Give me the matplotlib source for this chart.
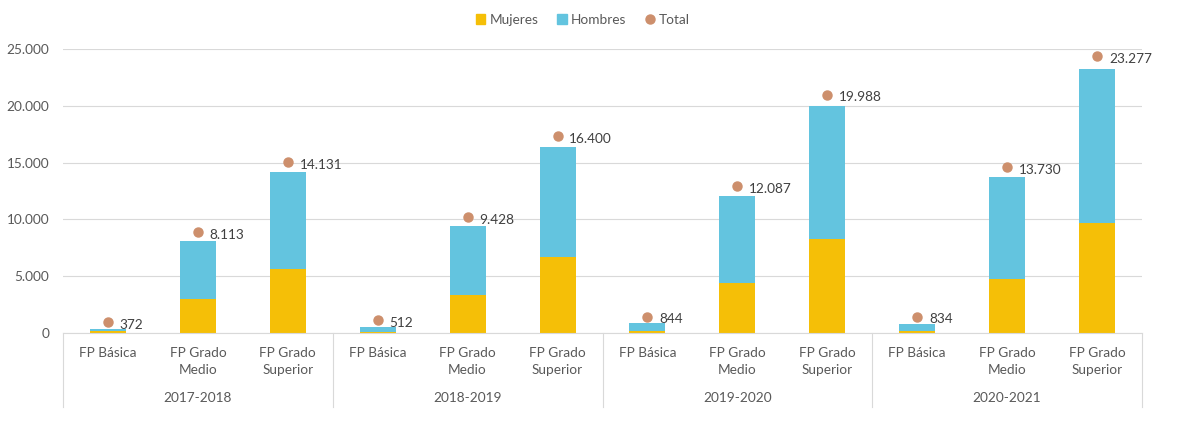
import numpy as np
import matplotlib.pyplot as plt
from matplotlib.lines import Line2D
from matplotlib.patches import Patch
from matplotlib.ticker import FuncFormatter

plt.rcParams['font.family'] = ['Lato', 'DejaVu Sans']

years = ['2017-2018', '2018-2019', '2019-2020', '2020-2021']
levels = ['FP Básica', 'FP Grado\nMedio', 'FP Grado\nSuperior']
total = [372, 8113, 14131, 512, 9428, 16400, 844, 12087, 19988, 834, 13730, 23277]
mujeres = [180, 2958, 5660, 60, 3370, 6655, 200, 4430, 8240, 200, 4720, 9650]
hombres = [t - m for t, m in zip(total, mujeres)]

c_muj = '#F5BF07'
c_hom = '#63C4DF'
c_tot = '#CD8F6C'
grey = '#D9D9D9'
txt = '#595959'

fig = plt.figure(figsize=(11.8, 4.23), dpi=100)
ax = fig.add_axes([63 / 1180, 1 - 333 / 423, (1142 - 63) / 1180, 284 / 423])
x = np.arange(len(total))

ax.bar(x, mujeres, width=0.4, color=c_muj, zorder=2)
ax.bar(x, hombres, width=0.4, bottom=mujeres, color=c_hom, zorder=2)

ax.set_xlim(-0.5, len(total) - 0.5)
ax.set_ylim(0, 25000)
ax.set_yticks(range(0, 25001, 5000))
ax.yaxis.set_major_formatter(FuncFormatter(lambda v, p: f'{int(v):,}'.replace(',', '.')))
ax.grid(axis='y', color=grey, linewidth=0.8, zorder=0)
ax.tick_params(axis='y', length=0, pad=10, labelsize=9.8, labelcolor=txt)
ax.set_xticks([])
for s in ['top', 'right', 'left']:
    ax.spines[s].set_visible(False)
ax.spines['bottom'].set_color(grey)
ax.spines['bottom'].set_linewidth(0.8)

# total dots on a secondary scale, as in the original
ax2 = ax.twinx()
ax2.set_ylim(-576, 23917)
ax2.axis('off')
ax2.plot(x, total, 'o', color=c_tot, markersize=6.5, zorder=3)
for xi, t in zip(x, total):
    ax2.annotate(f'{t:,}'.replace(',', '.'), (xi, t), xytext=(8.5, -2),
                 textcoords='offset points', va='center', ha='left',
                 fontsize=9.8, color='#404040')

# multi-level category axis
tr = ax.get_xaxis_transform()
for i, xi in enumerate(x):
    ax.text(xi, -0.05, levels[i % 3], transform=tr, ha='center', va='top',
            fontsize=9.8, color=txt, linespacing=1.5)
for g, yr in enumerate(years):
    ax.text(g * 3 + 1, -0.228, yr, transform=tr, ha='center', va='center',
            fontsize=9.8, color=txt)
for b in np.arange(-0.5, len(total), 3):
    ax.plot([b, b], [0, -0.26], transform=tr, color=grey, linewidth=0.8, clip_on=False)

handles = [Patch(color=c_muj, label='Mujeres'),
           Patch(color=c_hom, label='Hombres'),
           Line2D([], [], marker='o', linestyle='', color=c_tot, markersize=6.5, label='Total')]
leg = fig.legend(handles=handles, loc='center', bbox_to_anchor=(0.494, 1 - 20 / 423), ncol=3,
                 frameon=False, fontsize=9.8, handlelength=0.7, handleheight=0.7,
                 handletextpad=0.3, columnspacing=1.4)
for t in leg.get_texts():
    t.set_color(txt)

fig.savefig('out.png', dpi=100)
